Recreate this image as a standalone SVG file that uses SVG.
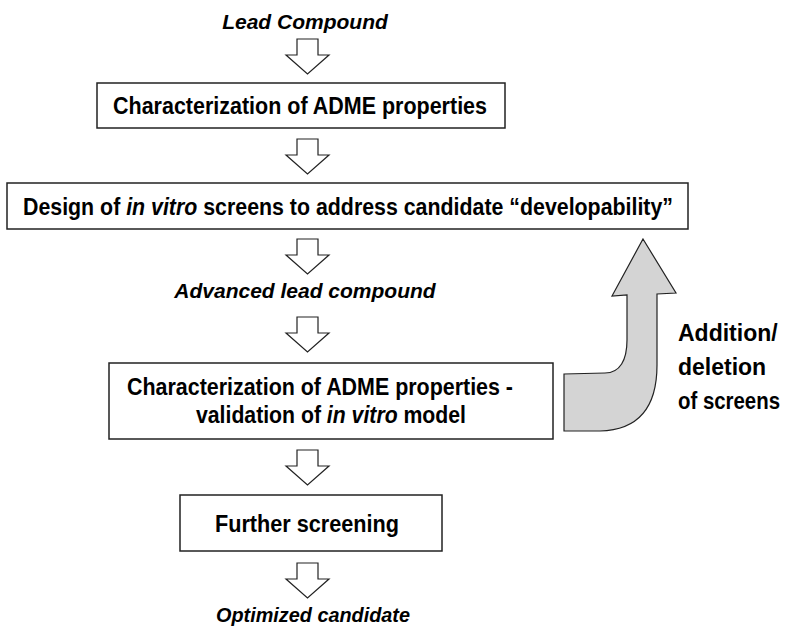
<svg xmlns="http://www.w3.org/2000/svg" width="785" height="629" viewBox="0 0 785 629">
<defs>
<style>
.box{fill:#fff;stroke:#222;stroke-width:1.5}
.t{font-family:"Liberation Sans",Arial,sans-serif;font-weight:bold;font-size:23px;fill:#000}
.lbl{font-family:"Liberation Sans",Arial,sans-serif;font-weight:bold;font-style:italic;font-size:21px;fill:#000}
.i{font-style:italic}
.arr{fill:#fff;stroke:#222;stroke-width:1.2;stroke-linejoin:miter}
.big{fill:#d4d4d4;stroke:#222;stroke-width:1.2}
</style>
<path id="dn" d="M-10.5,0 H10.5 V16 H21.5 L0,35 L-21.5,16 H-10.5 Z"/>
</defs>
<g id="lead">
<text class="lbl" x="305" y="29" text-anchor="middle">Lead Compound</text>
</g>
<g id="box1">
<rect class="box" x="97" y="83" width="408" height="45"/>
<text class="t" x="113" y="114" textLength="374" lengthAdjust="spacingAndGlyphs">Characterization of ADME properties</text>
</g>
<g id="box2">
<rect class="box" x="7" y="183" width="681" height="46"/>
<text class="t" x="23" y="215" textLength="650" lengthAdjust="spacingAndGlyphs">Design of <tspan class="i">in vitro</tspan> screens to address candidate “developability”</text>
</g>
<g id="advanced">
<text class="lbl" x="305" y="298" text-anchor="middle">Advanced lead compound</text>
</g>
<g id="box4">
<rect class="box" x="109" y="363" width="444" height="76"/>
<text class="t" x="127" y="395" textLength="386" lengthAdjust="spacingAndGlyphs">Characterization of ADME properties -</text>
<text class="t" x="196" y="423" textLength="270" lengthAdjust="spacingAndGlyphs">validation of <tspan class="i">in vitro</tspan> model</text>
</g>
<g id="box5">
<rect class="box" x="180" y="495" width="262" height="56"/>
<text class="t" x="215" y="532" textLength="184" lengthAdjust="spacingAndGlyphs">Further screening</text>
</g>
<g id="optimized">
<text class="lbl" x="216" y="622" textLength="194" lengthAdjust="spacingAndGlyphs">Optimized candidate</text>
</g>
<g id="feedback">
<path class="big" d="M643,239 L676,293 L657,294 L657,365 C657,405 640,430 600,431 L564,431 L564,374 L605,373 C620,373 627,360 627,340 L627,295 L612,296 Z"/>
<text class="t" x="678" y="341">Addition/</text>
<text class="t" x="678" y="375">deletion</text>
<text class="t" x="678" y="409" textLength="102" lengthAdjust="spacingAndGlyphs">of screens</text>
</g>
<g id="connectors">
<use href="#dn" class="arr" x="307.5" y="39"/>
<use href="#dn" class="arr" x="307.5" y="139"/>
<use href="#dn" class="arr" x="307.5" y="239"/>
<use href="#dn" class="arr" x="307.5" y="317"/>
<use href="#dn" class="arr" x="307.5" y="450"/>
<use href="#dn" class="arr" x="307.5" y="563"/>
</g>
</svg>
